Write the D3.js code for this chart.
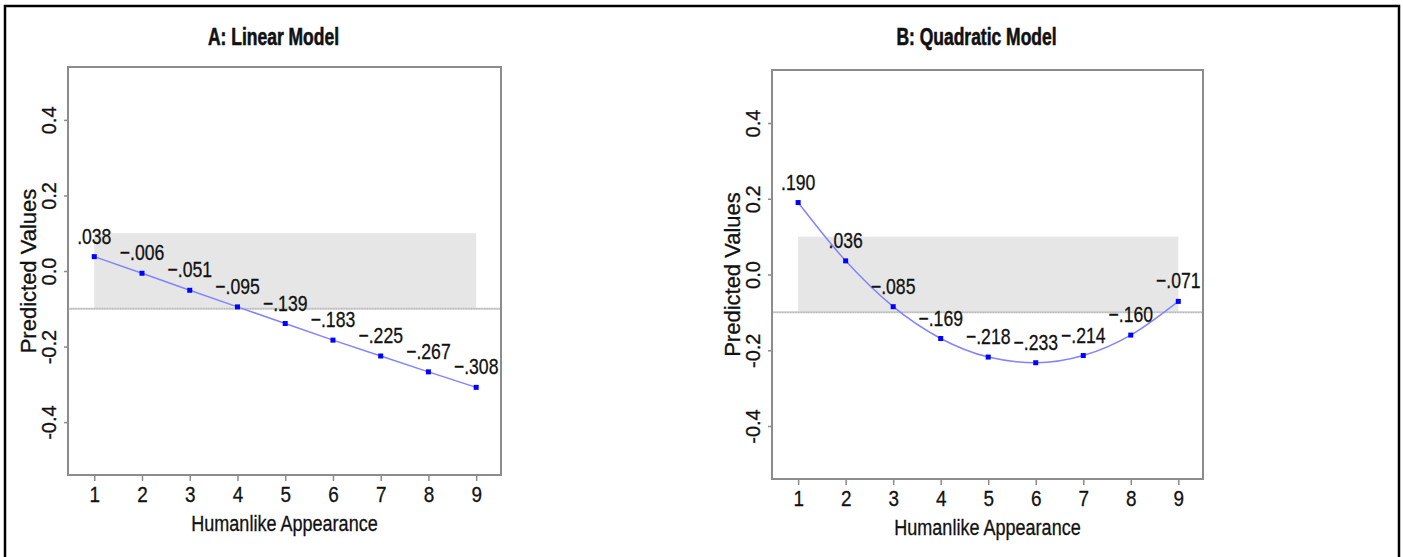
<!DOCTYPE html>
<html>
<head>
<meta charset="utf-8">
<script src="https://cdn.jsdelivr.net/npm/d3@7"></script>
<style>
  body { margin: 0; background: #fff; }
  text { font-family: "Liberation Sans", Arial, sans-serif; fill: #111; stroke: #111; stroke-width: 0.3px; }
</style>
</head>
<body>
<svg id="chart" width="1403" height="557"></svg>
<script>
// values
var appearance = [1, 2, 3, 4, 5, 6, 7, 8, 9];
var linearValues = [0.038, -0.006, -0.051, -0.095, -0.139, -0.183, -0.225, -0.267, -0.308];
var quadraticValues = [0.190, 0.036, -0.085, -0.169, -0.218, -0.233, -0.214, -0.160, -0.071];
var yTicks = [-0.4, -0.2, 0.0, 0.2, 0.4];
var panelTitles = ["A: Linear Model", "B: Quadratic Model"];
var xTitle = "Humanlike Appearance";
var yTitle = "Predicted Values";
var bandLow = -0.1, bandHigh = 0.1;

var svg = d3.select("#chart");

// outer frame
svg.append("path")
    .attr("d", "M5,560 L5,6 L1399,6 L1399,560")
    .attr("fill", "none")
    .attr("stroke", "#000")
    .attr("stroke-width", 2.5);

function fmtLabel(d) {
    var s = d3.format(".3f")(Math.abs(d)).replace(/^0/, "");
    return (d < 0 ? "\u2212" : "") + s;
}

function drawPanel(box, title, values, curve) {
    var x = d3.scaleLinear().domain([0.45, 9.52]).range([box.left, box.right]);
    var y = d3.scaleLinear().domain([-0.54, 0.54]).range([box.bottom, box.top]);
    var g = svg.append("g");
    var cx = (box.left + box.right) / 2;

    // title
    g.append("text")
        .attr("transform", "translate(" + (cx - 11) + ",45) scale(0.76,1)")
        .attr("text-anchor", "middle")
        .attr("font-size", 23)
        .attr("font-weight", "bold")
        .style("stroke-width", "0.6px")
        .text(title);

    // grey band
    g.append("rect")
        .attr("x", x(1))
        .attr("y", y(bandHigh))
        .attr("width", x(9) - x(1))
        .attr("height", y(bandLow) - y(bandHigh))
        .attr("fill", "#e6e6e6");

    // reference line at the band's lower edge
    g.append("line")
        .attr("x1", box.left).attr("x2", box.right)
        .attr("y1", y(bandLow)).attr("y2", y(bandLow))
        .attr("stroke", "#cccccc")
        .attr("stroke-width", 2);
    g.append("line")
        .attr("x1", box.left).attr("x2", box.right)
        .attr("y1", y(bandLow)).attr("y2", y(bandLow))
        .attr("stroke", "#a8a8a8")
        .attr("stroke-width", 1)
        .attr("stroke-dasharray", "1,1.6")
        .attr("opacity", 0.7);

    // axes
    var xAxis = g.append("g")
        .attr("transform", "translate(0," + box.bottom + ")")
        .call(d3.axisBottom(x).tickValues(appearance).tickSize(6).tickFormat(d3.format("d")));
    xAxis.select(".domain").remove();
    xAxis.selectAll("line").attr("stroke", "#8c8c8c").attr("stroke-width", 1.5);
    xAxis.selectAll("text")
        .attr("y", 11)
        .attr("font-size", 22)
        .attr("transform", "scale(0.86,1)")
        .style("font-family", "'Liberation Sans', Arial, sans-serif");

    var yAxis = g.append("g")
        .attr("transform", "translate(" + box.left + ",0)")
        .call(d3.axisLeft(y).tickValues(yTicks).tickSize(4).tickFormat(function (d) { return d.toFixed(1); }));
    yAxis.select(".domain").remove();
    yAxis.selectAll("line").attr("stroke", "#8c8c8c").attr("stroke-width", 1.5);
    yAxis.selectAll("text")
        .attr("x", 0)
        .attr("dy", "0.35em")
        .attr("text-anchor", "middle")
        .attr("transform", "translate(-19,0) rotate(-90)")
        .attr("font-size", 20)
        .style("font-family", "'Liberation Sans', Arial, sans-serif");

    // plot box
    g.append("rect")
        .attr("x", box.left).attr("y", box.top)
        .attr("width", box.right - box.left)
        .attr("height", box.bottom - box.top)
        .attr("fill", "none")
        .attr("stroke", "#8c8c8c")
        .attr("stroke-width", 2);

    // axis titles
    g.append("text")
        .attr("transform", "translate(" + cx + "," + (box.bottom + 56) + ") scale(0.82,1)")
        .attr("text-anchor", "middle")
        .attr("font-size", 22)
        .text(xTitle);
    g.append("text")
        .attr("transform", "translate(" + (box.left - 40) + "," + ((box.top + box.bottom) / 2) + ") rotate(-90)")
        .attr("text-anchor", "middle")
        .attr("dy", "0.35em")
        .attr("font-size", 22)
        .text(yTitle);

    // line and points
    var line = d3.line()
        .x(function (d, i) { return x(appearance[i]); })
        .y(function (d) { return y(d); })
        .curve(curve);
    g.append("path")
        .datum(values)
        .attr("d", line)
        .attr("fill", "none")
        .attr("stroke", "#8383ff")
        .attr("stroke-width", 1.5);

    g.selectAll(".pt")
        .data(values)
        .enter().append("rect")
        .attr("class", "pt")
        .attr("x", function (d, i) { return x(appearance[i]) - 2.5; })
        .attr("y", function (d) { return y(d) - 2.5; })
        .attr("width", 5).attr("height", 5)
        .attr("fill", "#0000ff");

    g.selectAll(".lbl")
        .data(values)
        .enter().append("text")
        .attr("class", "lbl")
        .attr("text-anchor", "middle")
        .attr("font-size", 22)
        .attr("transform", function (d, i) {
            return "translate(" + x(appearance[i]) + "," + (y(d) - 13) + ") scale(0.8,1)";
        })
        .text(fmtLabel);
}

drawPanel({ left: 68, right: 501, top: 67, bottom: 475 }, panelTitles[0], linearValues, d3.curveLinear);
drawPanel({ left: 772, right: 1203, top: 70, bottom: 479 }, panelTitles[1], quadraticValues, d3.curveMonotoneX);
</script>
</body>
</html>
